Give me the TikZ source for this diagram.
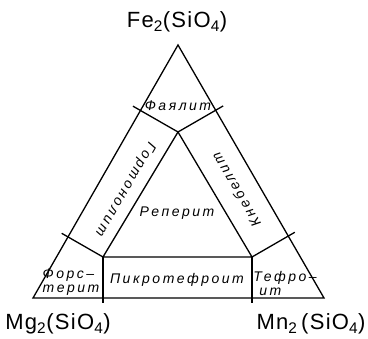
\documentclass[tikz,border=0pt]{standalone}
\usepackage{fontspec}
\setmainfont{Liberation Sans}
\newfontfamily\minfont[LetterSpace=18]{Liberation Sans}
\newfontfamily\chemfont[LetterSpace=6]{Liberation Sans}
\usetikzlibrary{calc}
\tikzset{
  ln/.style={draw=black,line width=1.3pt,line join=miter},
  mineral/.style={font=\minfont\itshape\fontsize{14}{14}\selectfont,inner sep=0pt,align=left},
  chem/.style={font=\chemfont\fontsize{22}{24}\selectfont,inner sep=0pt},
}
\begin{document}
\begin{tikzpicture}[x=1pt,y=-1pt]
  \useasboundingbox (0,0) rectangle (368,339);
  % outer and inner triangles
  \coordinate (A) at (178,45);
  \coordinate (B) at (33,298);
  \coordinate (C) at (324,298);
  \coordinate (P) at (178,132);
  \coordinate (Q) at (103,257);
  \coordinate (R) at (252,257);
  \draw[ln] (A)--(B)--(C)--cycle;
  \draw[ln] (P)--(Q)--(R)--cycle;
  % dividers, perpendicular to the outer sides
  \draw[ln] (P)--($(P)!1.2!($(A)!(P)!(B)$)$);
  \draw[ln] (P)--($(P)!1.2!($(A)!(P)!(C)$)$);
  \draw[ln] (Q)--($(Q)!1.18!($(A)!(Q)!(B)$)$);
  \draw[ln] (R)--($(R)!1.18!($(A)!(R)!(C)$)$);
  \draw[ln] (Q)--($(Q)!1.12!($(B)!(Q)!(C)$)$);
  \draw[ln] (R)--($(R)!1.12!($(B)!(R)!(C)$)$);
  % end members
  \node[chem] (fe) at (177,22) {Fe\textsubscript{2}(SiO\textsubscript{4})};
  \node[chem] (mg) at (58,324) {Mg\textsubscript{2}(SiO\textsubscript{4})};
  \node[chem] (mn) at (311,324) {Mn\textsubscript{2}\,(SiO\textsubscript{4})};
  % fields
  \node[mineral] (fa) at (178,106) {Фаялит};
  \node[mineral,rotate=240] (gor) at (125,189) {Гортонолит};
  \node[mineral,rotate=120] (kne) at (236,190) {Кнебелит};
  \node[mineral] (rep) at (177,213) {Реперит};
  \node[mineral] (fo) at (71,282) {Форс–\\терит};
  \node[mineral] (pik) at (177,280) {Пикротефроит};
  \node[mineral] (tef) at (285,283) {Тефро–\\\hspace*{6pt}ит};
\end{tikzpicture}
\end{document}
